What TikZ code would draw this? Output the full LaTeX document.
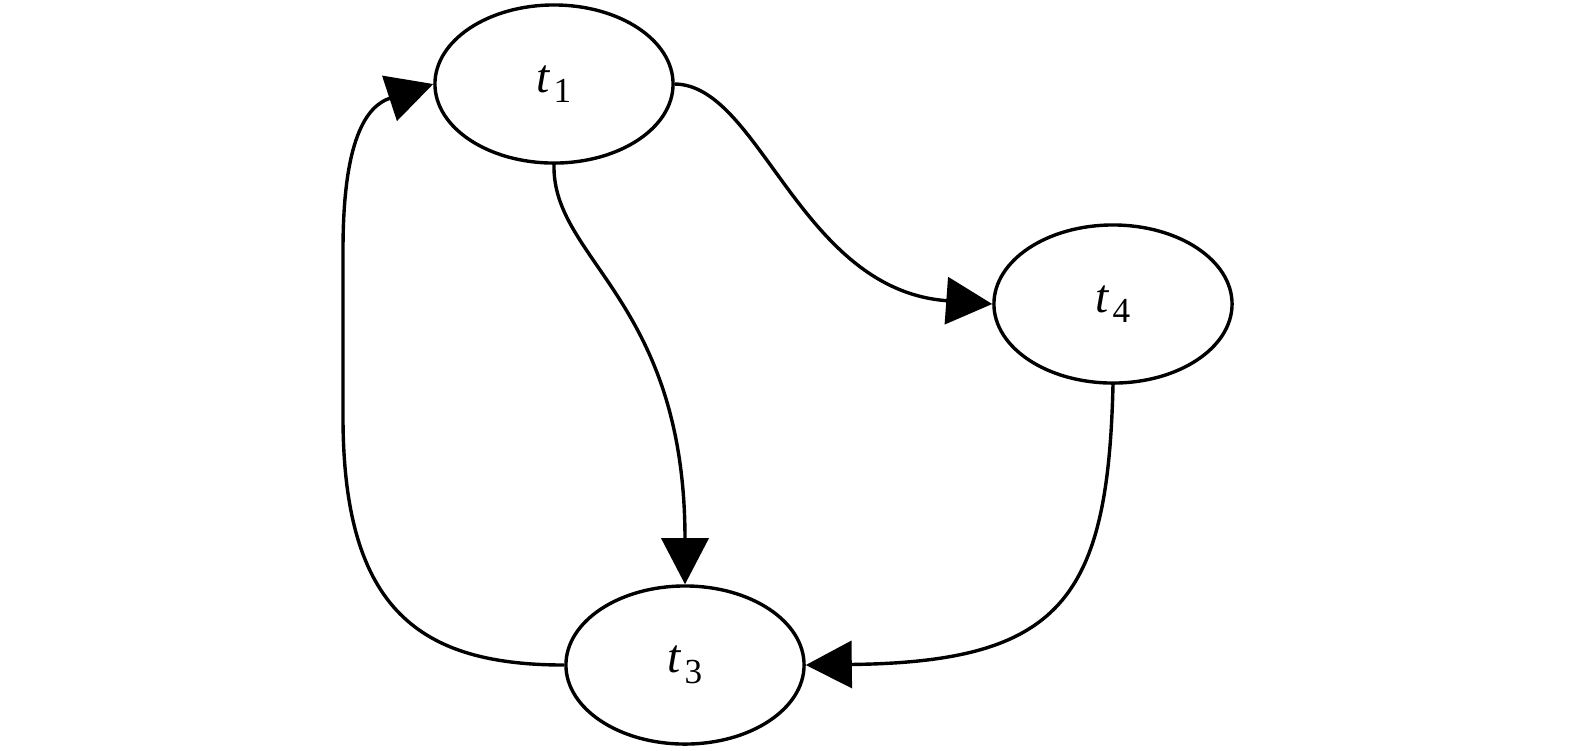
\documentclass[tikz,border=0pt]{standalone}
\usepackage{fontspec}
\setmainfont{Liberation Serif}
\usetikzlibrary{shapes.geometric,arrows.meta}
\newcommand{\tlab}[1]{{\itshape t}\kern0.08em\raisebox{-0.22em}{\fontsize{10pt}{11pt}\selectfont #1}}
\begin{document}
\begin{tikzpicture}[x=0.01cm,y=-0.01cm,
  place/.style={ellipse,draw,line width=0.034cm,minimum width=2.38cm,minimum height=1.58cm,inner sep=0pt,font=\fontsize{13.5pt}{15pt}\selectfont},
  conn/.style={line width=0.034cm,-{Triangle[length=0.46cm,width=0.47cm]}}]
\useasboundingbox (0,0) rectangle (1575,750);
\node[place] (t1) at (554,84) {\tlab{1}};
\node[place] (t4) at (1113,304) {\tlab{4}};
\node[place] (t3) at (685,665) {\tlab{3}};
\draw[conn] (t1.east) .. controls (760,85) and (800,290) .. (t4.west);
\draw[conn] (t1.south) .. controls (552,260) and (685,300) .. (t3.north);
\draw[conn] (t4.south) .. controls (1108,600) and (1060,662) .. (t3.east);
\draw[conn] (t3.west) .. controls (420,665) and (344,610) .. (343,420)
  -- (343,250) .. controls (343,140) and (366,106) .. (t1.west);
\end{tikzpicture}
\end{document}
